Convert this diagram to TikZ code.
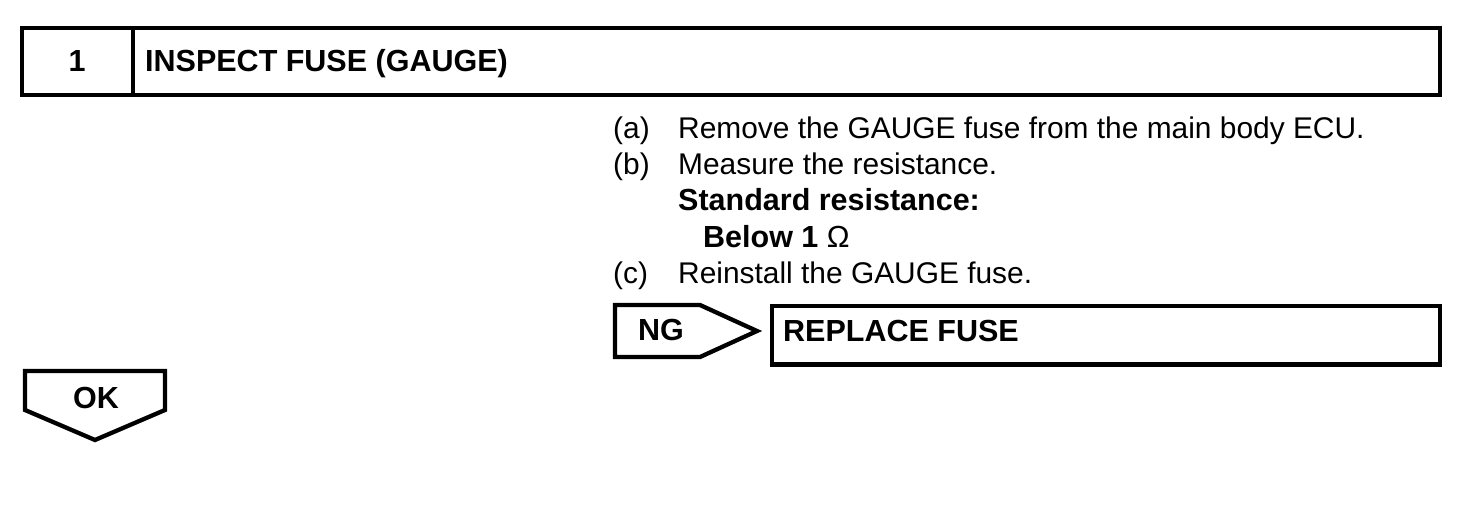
\documentclass[tikz,border=0pt]{standalone}
\usepackage{fontspec}
\setmainfont{Liberation Sans}
\begin{document}
\begin{tikzpicture}[x=1pt,y=-1pt,
  frame/.style={draw=black,line width=4.3pt,line join=miter},
  txt/.style={inner sep=0pt,anchor=base west,font=\fontsize{29.9}{36}\selectfont},
  btxt/.style={txt,font=\fontsize{30.5}{36}\selectfont\bfseries}]
\useasboundingbox (0,0) rectangle (1472,528);
% header
\draw[frame] (22,28) rectangle (1440,95);
\draw[frame] (133,28) -- (133,95);
\node[btxt,anchor=base] (num) at (77,71) {1};
\node[btxt] (title) at (145,71) {INSPECT FUSE (GAUGE)};
% steps
\node[txt] (la) at (613,138.5) {(a)};
\node[txt] (ta) at (678,138.5) {Remove the GAUGE fuse from the main body ECU.};
\node[txt] (lb) at (613,174.5) {(b)};
\node[txt] (tb) at (678,174.5) {Measure the resistance.};
\node[btxt] (std) at (678,210.5) {Standard resistance:};
\node[btxt] (val) at (703,247.5) {Below 1 {\mdseries Ω}};
\node[txt] (lc) at (613,283.5) {(c)};
\node[txt] (tc) at (678,283.5) {Reinstall the GAUGE fuse.};
% NG
\draw[frame] (615,305) -- (700,305) -- (757,331) -- (700,357) -- (615,357) -- cycle;
\node[btxt] (ng) at (638,340.5) {NG};
\draw[frame] (772,306) rectangle (1440,364.5);
\node[btxt] (rep) at (783,341.5) {REPLACE FUSE};
% OK
\draw[frame] (25,371) -- (165,371) -- (165,410) -- (95,440) -- (25,410) -- cycle;
\node[btxt] (ok) at (73,408.5) {OK};
\end{tikzpicture}
\end{document}
